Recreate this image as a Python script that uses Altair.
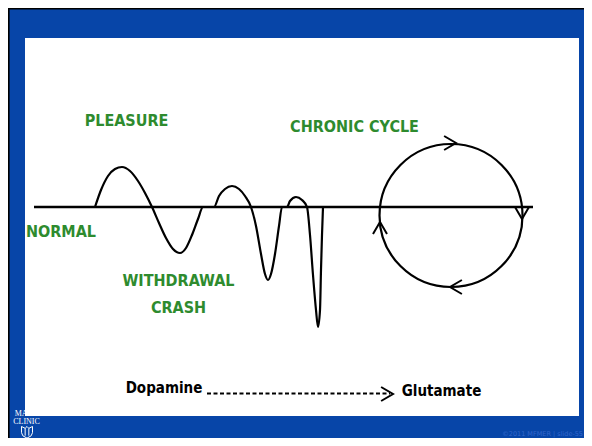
import altair as alt
import pandas as pd

# ---- wave: position along the course (t) and level relative to NORMAL (0) ----
wave_t = [95, 101, 108, 115, 122, 130, 138, 145, 152, 159, 166, 173, 180, 186, 192, 198, 203,
          214, 219, 225, 232, 239, 245, 251, 256, 261, 265, 268, 271, 275, 279, 282,
          287, 290, 296, 302, 307, 310, 313, 316, 318, 320, 321, 322, 323]
wave_level = [0, 17, 31, 38, 40, 36, 26, 14, 0, -16, -31, -42, -46, -41, -28, -12, 0,
              0, 11, 18, 21, 18, 11, 0, -19, -47, -67, -73, -67, -47, -19, 0,
              0, 6, 10, 7, 0, -28, -68, -103, -120, -103, -63, -28, 0]

# ---- chronic cycle circle ----
cycle_t = [451]
cycle_level = [-8.5]

# ---- arrow heads (tip position, direction) ----
arrow_t = [456, 522, 450, 380, 393]
arrow_level = [64, -12, -80, -15, -187]
arrow_angle = [0, 90, 180, 270, 0]

# ---- labels ----
label_text = ["PLEASURE", "CHRONIC CYCLE", "NORMAL", "WITHDRAWAL", "CRASH"]
label_t = [126.5, 354.5, 61, 178.5, 178.5]
label_level = [81, 75, -30, -79, -106]

axis_text = ["Dopamine", "Glutamate"]
axis_t = [164, 441.5]
axis_level = [-186, -189]

BLUE = "#0745A8"
GREEN = "#2E8B2E"
FONT = "Liberation Sans Narrow, DejaVu Sans Condensed, Arial Narrow, sans-serif"

# page coordinates 8..584 x 8..438 (level = 207 - page y)
xs = alt.Scale(domain=[8, 584], nice=False, zero=False)
ys = alt.Scale(domain=[-231, 199], nice=False, zero=False)


def XY(x="t", y="lv"):
    return dict(x=alt.X(f"{x}:Q", scale=xs, axis=None),
                y=alt.Y(f"{y}:Q", scale=ys, axis=None))


# frame pieces
frame = pd.DataFrame({
    "t": [8, 8, 25], "t1": [9.6, 584, 579],
    "lv": [199, 199, 169], "lv1": [-231, 197.6, -209],
    "c": ["black", "black", "white"],
})
frame_layer = alt.Chart(frame).mark_rect().encode(
    **XY(), x2="t1:Q", y2="lv1:Q", color=alt.Color("c:N", scale=None))

# logo + copyright
logo_df = pd.DataFrame({"t": [26.5, 26.5], "lv": [-209, -217], "txt": ["MAYO", "CLINIC"]})
logo = alt.Chart(logo_df).mark_text(
    font="Liberation Serif, DejaVu Serif, serif", fontSize=8, color="white",
    baseline="alphabetic", align="center").encode(**XY(), text="txt:N")
shield = alt.Chart(pd.DataFrame({"t": [27], "lv": [-225]})).mark_point(
    shape="M-0.9,-0.9L-0.3,-0.6L0,-0.9L0.3,-0.6L0.9,-0.9L0.9,0.1Q0.9,0.7,0,1Q-0.9,0.7,-0.9,0.1Z"
          "M-0.3,-0.6L-0.3,0.6M0.3,-0.6L0.3,0.6",
    filled=False, stroke="white", strokeWidth=1, size=150, opacity=1).encode(**XY())
copy_df = pd.DataFrame({"t": [583], "lv": [-229], "txt": ["©2011 MFMER  |  slide-55"]})
copyright_ = alt.Chart(copy_df).mark_text(
    font="DejaVu Sans, sans-serif", fontSize=6.5, color="#3366CC",
    baseline="alphabetic", align="right").encode(**XY(), text="txt:N")

# baseline (NORMAL)
base = alt.Chart(pd.DataFrame({"t": [34], "t1": [533], "lv": [0]})).mark_rule(
    color="black", strokeWidth=2.5).encode(**XY(), x2="t1:Q")

# wave
wave_df = pd.DataFrame({"t": wave_t, "lv": wave_level, "i": range(len(wave_t))})
wave = alt.Chart(wave_df).mark_line(
    interpolate="monotone", color="black", strokeWidth=2.2).encode(**XY(), order="i:Q")

# circle
circle = alt.Chart(pd.DataFrame({"t": cycle_t, "lv": cycle_level})).mark_point(
    shape="circle", filled=False, size=20449, stroke="black", strokeWidth=2.2,
    opacity=1).encode(**XY())

# dashed arrow Dopamine -> Glutamate
dash = alt.Chart(pd.DataFrame({"t": [207], "t1": [390], "lv": [-186.5]})).mark_rule(
    color="black", strokeWidth=2, strokeDash=[4, 2.5]).encode(**XY(), x2="t1:Q")

# arrow heads
arrows_df = pd.DataFrame({"t": arrow_t, "lv": arrow_level, "a": arrow_angle})
arrows = alt.Chart(arrows_df).mark_point(
    shape="M-1.7,-1L0,0L-1.7,1", filled=False, stroke="black", strokeWidth=2,
    size=196, opacity=1).encode(**XY(), angle=alt.Angle("a:Q", scale=None))

# labels
lab_df = pd.DataFrame({"t": label_t, "lv": label_level, "txt": label_text})
labels = alt.Chart(lab_df).mark_text(
    font=FONT, fontSize=16, fontWeight="bold", color=GREEN,
    baseline="alphabetic", align="center").encode(**XY(), text="txt:N")

ax_df = pd.DataFrame({"t": axis_t, "lv": axis_level, "txt": axis_text})
ax_labels = alt.Chart(ax_df).mark_text(
    font=FONT, fontSize=15, fontWeight="bold", color="black",
    baseline="alphabetic", align="center").encode(**XY(), text="txt:N")

chart = alt.layer(
    logo, shield, copyright_, frame_layer, base, wave, circle, dash, arrows, labels, ax_labels
).properties(
    width=576, height=430, padding=0, background=BLUE,
    autosize=alt.AutoSizeParams(type="none"),
).configure_view(stroke=None)

chart.save("out.html", embed_options={"renderer": "svg", "actions": False})
